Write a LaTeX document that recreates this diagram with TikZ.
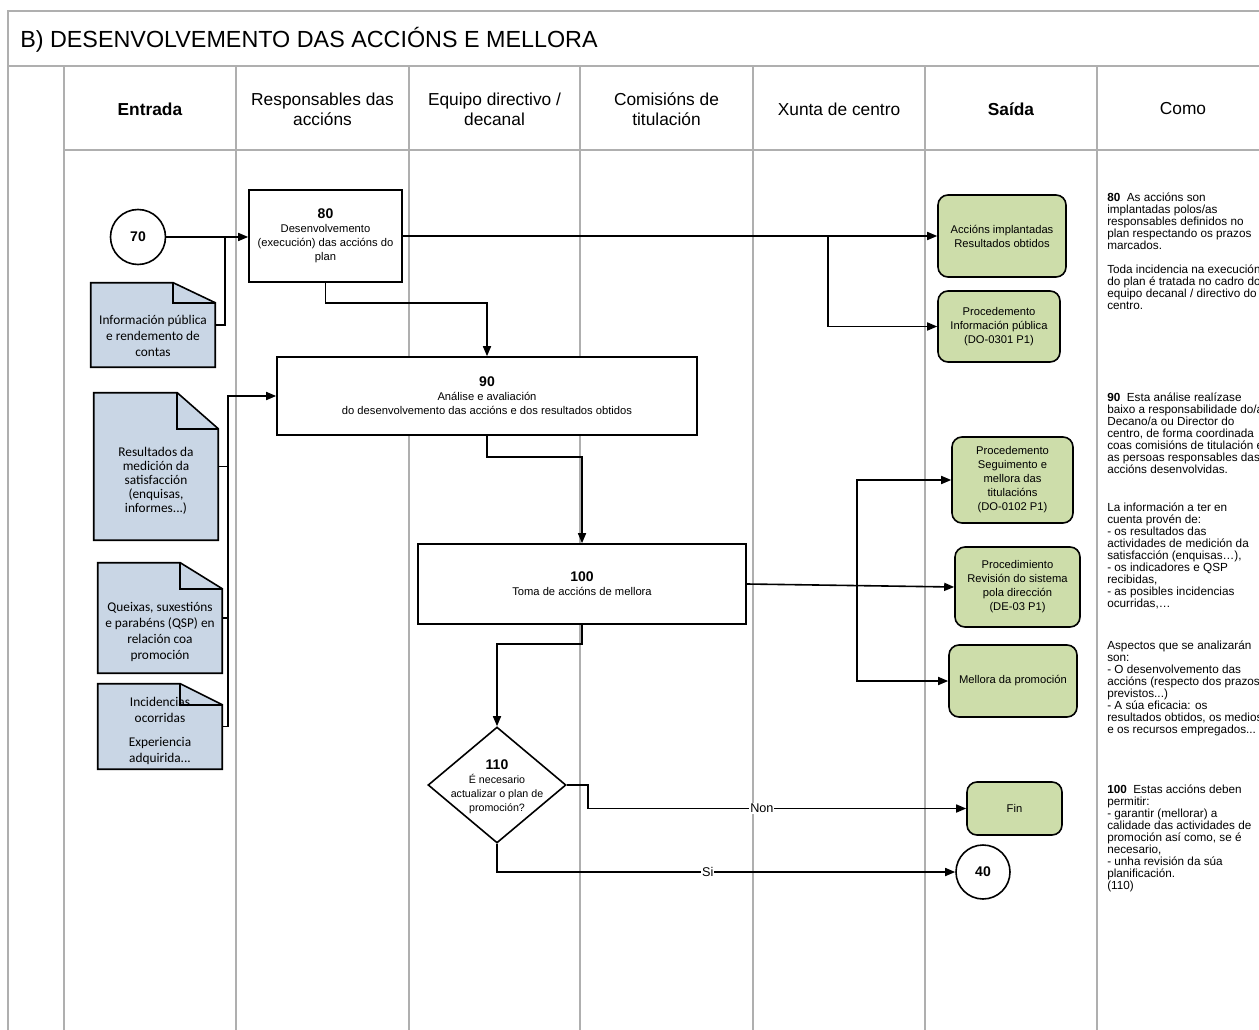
\documentclass[tikz,border=0pt]{standalone}
\usepackage{fontspec}
\setmainfont{Liberation Sans}
\newfontfamily\docfont{Carlito}
\usetikzlibrary{arrows.meta,shapes.geometric,calc}
\pgfdeclarelayer{gridlayer}
\pgfdeclarelayer{shapelayer}
\pgfsetlayers{gridlayer,shapelayer,main}
\definecolor{gridgray}{RGB}{175,175,175}
\definecolor{docblue}{RGB}{201,214,229}
\definecolor{outgreen}{RGB}{205,221,170}
\newcommand\docoutline[3]{%
  \filldraw[fill=docblue,draw=black,line width=1.2pt,line join=miter]
    (#1.south west) -- (#1.north west) -- ($(#1.north east)+(-#2,0)$) -- ($(#1.north east)+(0,#3)$) -- (#1.south east) -- cycle;
  \draw[line width=1.2pt] ($(#1.north east)+(-#2,0)$) -- ($(#1.north east)+(-#2,#3)$) -- ($(#1.north east)+(0,#3)$);
}
\newcommand\bnum[1]{{\fontsize{10.5}{12}\selectfont\bfseries #1}}
\begin{document}
\begin{tikzpicture}[x=0.75pt,y=-0.75pt,
  bw/.style={minimum width=#1*0.75pt},
  bh/.style={minimum height=#1*0.75pt},
  conn/.style={line width=1.2pt,draw=black},
  arr/.style={conn,-{Triangle[length=7.5pt,width=6pt]}},
  proc/.style={draw,line width=1.2pt,fill=white,inner sep=0pt,align=center,font=\fontsize{8.4}{10.5}\selectfont},
  outp/.style={draw,line width=1.2pt,fill=outgreen,rounded corners=7.5pt,inner sep=0pt,align=center,font=\fontsize{8.4}{10.5}\selectfont},
  docbox/.style={inner sep=0pt},
  doctext/.style={align=center,inner sep=0pt,font=\docfont\fontsize{10}{12}\selectfont},
  refc/.style={draw,circle,line width=1.2pt,fill=white,inner sep=0pt,font=\fontsize{10.5}{12}\selectfont\bfseries},
  hdr/.style={align=center,font=\fontsize{13}{15}\selectfont},
  como/.style={anchor=north west,inner sep=0pt,align=left,font=\fontsize{8.8}{9}\selectfont},
  lbl/.style={fill=white,inner sep=0.6pt,font=\fontsize{9.5}{11}\selectfont},
  lanes/.style={draw=gridgray,line width=1.2pt}
]
\useasboundingbox (0,0) rectangle (1259,1030);
\clip (0,0) rectangle (1259,1030);

% ---------- frame and lanes ----------
\begin{pgfonlayer}{gridlayer}
\fill[white] (0,0) rectangle (1259,1030);
\draw[lanes] (8,1040) -- (8,11) -- (1275,11);
\draw[lanes] (8,66) -- (1275,66);
\draw[lanes] (64,150) -- (1275,150);
\foreach \x in {64,236,409,580,753,925,1097} \draw[lanes] (\x,66) -- (\x,1040);
\end{pgfonlayer}

% ---------- title and headers ----------
\node[anchor=west,inner sep=0pt,font=\fontsize{17.5}{20}\selectfont] (title) at (20,40) {B) DESENVOLVEMENTO DAS ACCIÓNS E MELLORA};
\node[hdr] (hEnt) at (150,109) {\textbf{Entrada}};
\node[hdr] (hResp) at (322.5,109) {Responsables das\\accións};
\node[hdr] (hEq) at (494.5,109) {Equipo directivo /\\decanal};
\node[hdr] (hCom) at (666.5,109) {Comisións de\\titulación};
\node[hdr] (hXun) at (839,109) {Xunta de centro};
\node[hdr] (hSai) at (1011,109) {\textbf{Saída}};
\node[hdr] (hComo) at (1183,109) {Como};

% ---------- documents ----------
\node[docbox,bw=124,bh=84] (dInfo) at (153,325) {};
\node[docbox,bw=124,bh=147] (dRes) at (156,466.5) {};
\node[docbox,bw=124,bh=110] (dQue) at (160,618) {};
\node[docbox,bw=124,bh=85] (dInc) at (160,726.5) {};
\begin{pgfonlayer}{shapelayer}
\docoutline{dInfo}{42}{20}
\docoutline{dRes}{41}{36}
\docoutline{dQue}{42}{26}
\docoutline{dInc}{42}{21}
\end{pgfonlayer}
\node[doctext] (tInfo) at (153,336) {Información pública\\e rendemento de\\contas};
\node[doctext,font=\docfont\fontsize{10}{10.5}\selectfont] (tRes) at (156,481) {Resultados da\\medición da\\satisfacción\\(enquisas,\\informes...)};
\node[doctext] (tQue) at (160,632) {Queixas, suxestións\\e parabéns (QSP) en\\relación coa\\promoción};
\node[doctext] (tInc) at (160,731) {Incidencias\\ocorridas\\[6pt]Experiencia\\adquirida...};

% ---------- process nodes ----------
\node[refc,minimum size=41.25pt] (c70) at (138,237) {70};
\node[proc,bw=153,bh=92] (b80) at (325.5,236) {\bnum{80}\\Desenvolvemento\\(execución) das accións do\\plan};
\node[proc,bw=420,bh=78] (b90) at (487,396) {\bnum{90}\\Análise e avaliación\\do desenvolvemento das accións e dos resultados obtidos};
\node[proc,bw=328,bh=80] (b100) at (582,584) {\bnum{100}\\Toma de accións de mellora};
\node[draw,diamond,line width=1.2pt,fill=white,inner sep=0pt,bw=138,bh=116] (d110) at (497,785) {};
\node[align=center,inner sep=0pt,font=\fontsize{8}{10.5}\selectfont] (t110) at (497,787) {\bnum{110}\\É necesario\\actualizar o plan de\\promoción?};

% ---------- outputs ----------
\node[outp,bw=128,bh=82] (acc) at (1002,236) {Accións implantadas\\Resultados obtidos};
\node[outp,bw=122,bh=71] (infp) at (999,326.5) {Procedemento\\Información pública\\(DO-0301 P1)};
\node[outp,bw=121,bh=86] (seg) at (1012.5,480) {Procedemento\\Seguimento e\\mellora das\\titulacións\\(DO-0102 P1)};
\node[outp,bw=125,bh=80] (rev) at (1017.5,587) {Procedimiento\\Revisión do sistema\\pola dirección\\(DE-03 P1)};
\node[outp,bw=128,bh=72] (mel) at (1013,681) {Mellora da promoción};
\node[outp,bw=95,bh=53] (fin) at (1014.5,808.5) {Fin};
\node[refc,minimum size=40.5pt] (c40) at (983,872) {40};

% ---------- connectors ----------
\draw[arr] (c70.east) -- (c70.east -| b80.west);
\coordinate (j1) at (225,237);
\draw[conn] (dInfo.east) -| (j1);
\draw[arr] (b80.south) -- ++(0,20) -| (b90.north);
\draw[arr] (b80.east) -- (b80.east -| acc.west);
\coordinate (j2) at (828,236);
\draw[arr] (j2) |- (infp.west);
\coordinate (j3) at (228,396);
\draw[arr] (dRes.east) -| (j3) -- (j3 -| b90.west);
\draw[conn] (dQue.east) -| (j3);
\draw[conn] (dInc.east) -| (j3);
\draw[arr] (b90.south) -- ++(0,21) -| (b100.north);
\draw[arr] (b100.south) -- ++(0,19) -| (d110.north);
\draw[arr] (b100.east) -- (rev.west);
\coordinate (j4) at (857,585.6);
\draw[arr] (j4) |- (seg.west);
\draw[arr] (j4) |- (mel.west);
\draw[arr] (d110.east) -- ++(21,0) |- (fin.west) node[lbl,pos=0.73] (lNon) {Non};
\draw[arr] (d110.south) |- (c40.west) node[lbl,pos=0.73] (lSi) {Si};

% ---------- Como column ----------
\node[como] (como80) at (1107,193) {\textbf{80}\ \ As accións son\\
implantadas polos/as\\
responsables definidos no\\
plan respectando os prazos\\
marcados.\\[9pt]
Toda incidencia na execución\\
do plan é tratada no cadro do\\
equipo decanal / directivo do\\
centro.};
\node[como] (como90) at (1107,393) {\textbf{90}\ \ Esta análise realízase\\
baixo a responsabilidade do/a\\
Decano/a ou Director do\\
centro, de forma coordinada\\
coas comisións de titulación e\\
as persoas responsables das\\
accións desenvolvidas.\\[19.5pt]
La información a ter en\\
cuenta provén de:\\
- os resultados das\\
actividades de medición da\\
satisfacción (enquisas…),\\
- os indicadores e QSP\\
recibidas,\\
- as posibles incidencias\\
ocurridas,…\\[22.5pt]
Aspectos que se analizarán\\
son:\\
- O desenvolvemento das\\
accións (respecto dos prazos\\
previstos...)\\
- A súa eficacia: os\\
resultados obtidos, os medios\\
e os recursos empregados...};
\node[como] (como100) at (1107,785) {\textbf{100}\ \ Estas accións deben\\
permitir:\\
- garantir (mellorar) a\\
calidade das actividades de\\
promoción así como, se é\\
necesario,\\
- unha revisión da súa\\
planificación.\\
(110)};
\end{tikzpicture}
\end{document}
